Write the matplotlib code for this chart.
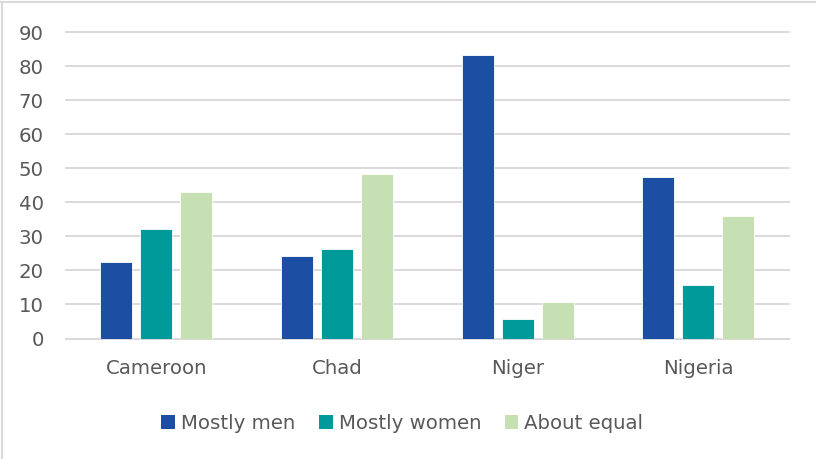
import matplotlib

matplotlib.use("Agg")

import matplotlib.pyplot as plt
import numpy as np
from matplotlib.lines import Line2D
from matplotlib.patches import Patch

countries = ["Cameroon", "Chad", "Niger", "Nigeria"]
series_names = ["Mostly men", "Mostly women", "About equal"]
mostly_men = [22.6, 24.2, 83.2, 47.5]
mostly_women = [32.3, 26.3, 5.6, 15.8]
about_equal = [43.1, 48.3, 10.7, 35.9]
y_ticks = [0, 10, 20, 30, 40, 50, 60, 70, 80, 90]

colors = ["#1c4fa3", "#009a9a", "#c6e0b4"]
text_color = "#595959"
grid_color = "#d9d9d9"

plt.rcParams["font.family"] = ["DejaVu Sans"]

fig = plt.figure(figsize=(8.16, 4.59), dpi=100)
ax = fig.add_axes([0.0809, 0.2625, 0.9665 - 0.0809, 0.9296 - 0.2625])

x = np.arange(len(countries))
width = 0.177
step = 0.221
for i, (values, color) in enumerate(zip([mostly_men, mostly_women, about_equal], colors)):
    ax.bar(x + (i - 1) * step, values, width=width, color=color,
           edgecolor="white", linewidth=0.6, zorder=3)

ax.set_xlim(-0.5, 3.5)
ax.set_ylim(0, 90)
ax.set_yticks(y_ticks)
ax.set_xticks(x)
ax.set_xticklabels(countries)
ax.yaxis.grid(True, color=grid_color, linewidth=1.4, zorder=0)
for line in ax.yaxis.get_gridlines():
    line.set_clip_on(False)
ax.tick_params(axis="both", length=0, labelsize=14.2, labelcolor=text_color)
ax.tick_params(axis="y", pad=16)
ax.tick_params(axis="x", pad=15)
for spine in ("left", "right", "top"):
    ax.spines[spine].set_visible(False)
ax.spines["bottom"].set_color(grid_color)
ax.spines["bottom"].set_linewidth(1.4)

handles = [Patch(facecolor=c, edgecolor="none") for c in colors]
fig.legend(handles, series_names, loc="center", bbox_to_anchor=(0.493, 0.0784),
           ncol=3, frameon=False, fontsize=14.2, labelcolor=text_color,
           handlelength=0.7, handleheight=0.7, handletextpad=0.3, columnspacing=1.2)

# light chart-area border (top and left only visible)
fig.add_artist(Line2D([0, 1], [0.995, 0.995], transform=fig.transFigure, color=grid_color, linewidth=1.5))
fig.add_artist(Line2D([0.002, 0.002], [0, 0.995], transform=fig.transFigure, color=grid_color, linewidth=1.5))

fig.savefig("out.png", dpi=100)
plt.close(fig)
